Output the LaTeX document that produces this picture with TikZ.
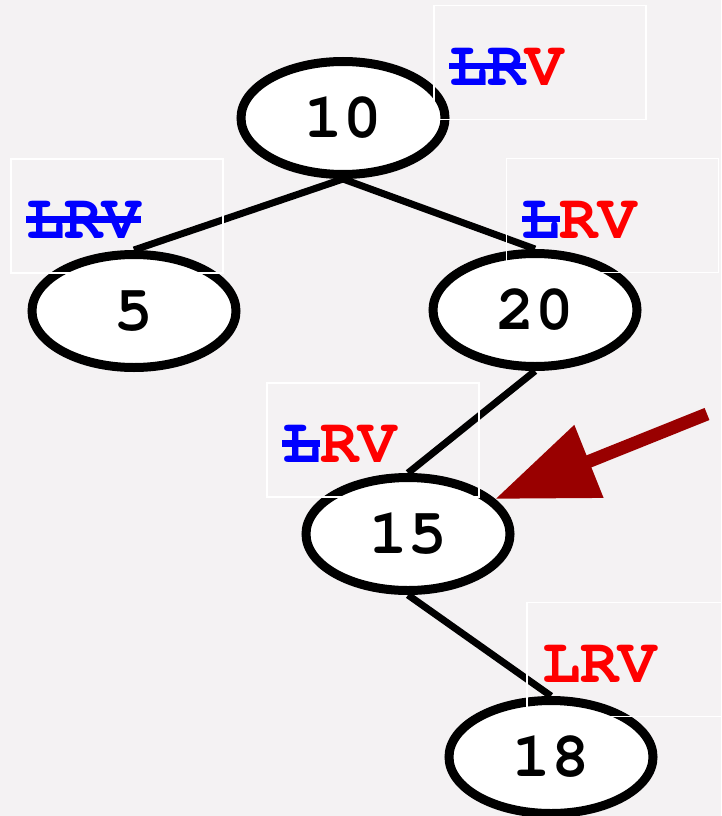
\documentclass[tikz,border=0pt]{standalone}
\usepackage{fontspec}
\setmainfont{texgyrecursor}[Extension=.otf,UprightFont=*-regular,BoldFont=*-bold]
\usepackage{xcolor}
\usetikzlibrary{positioning,shapes.geometric,arrows.meta}
\definecolor{bgcol}{HTML}{F4F2F3}
\definecolor{lblue}{HTML}{0000FF}
\definecolor{lred}{HTML}{FF0000}
\definecolor{ptrred}{HTML}{990000}
\newsavebox\strkbox
\newcommand\strk[1]{\sbox\strkbox{#1}\rlap{\usebox\strkbox}\rule[0.25em]{\wd\strkbox}{0.1em}}

\begin{document}
\begin{tikzpicture}[x=1pt,y=1pt,node distance=200pt,on grid,font=\fontsize{64}{70}\selectfont\bfseries]
  \tikzstyle{key}=[ellipse,draw,line width=9pt,fill=white,minimum width=204pt,minimum height=113pt,inner sep=0pt]
  \tikzstyle{branch}=[draw,line width=7pt]
  \tikzstyle{lrv}=[rectangle,draw=white,line width=1.2pt,minimum width=212pt,minimum height=114pt,text width=182pt,align=left,inner xsep=15pt,inner ysep=0pt,text height=79.5pt,text depth=34.5pt]
  \tikzstyle{ptr_arrow}=[-{Triangle[length=101pt,width=75pt]},line width=13pt,draw=ptrred]
  \path[use as bounding box,fill=bgcol] (0,0) rectangle (721,-816);
  \node[key] (n_10) at (343,-118) {10};
  \node[key] (n_5) [below left=193pt and 209pt of n_10] {5};
  \node[key] (n_20) [below right=192pt and 192pt of n_10] {20};
  \node[key] (n_15) [below left=224pt and 127pt of n_20] {15};
  \node[key] (n_18) [below right=223pt and 143pt of n_15] {18};
    \path
    (n_10.south) edge [branch] (n_5.north)
                 edge [branch] (n_20.north)
    (n_20.south) edge [branch] (n_15.north)
    (n_15.south) edge [branch] (n_18.north);
  \node[lrv] (lrv_10) [above right=55.5pt and 197pt of n_10] {\textcolor{lblue}{\strk{LR}}\textcolor{lred}{V}};
  \node[lrv] (lrv_5) [above left=95pt and 17pt of n_5] {\textcolor{lblue}{\strk{LRV}}};
  \node[lrv] (lrv_20) [above right=94.5pt and 77.5pt of n_20] {\textcolor{lblue}{\strk{L}}\textcolor{lred}{RV}};
  \node[lrv] (lrv_15) [above left=94pt and 35pt of n_15] {\textcolor{lblue}{\strk{L}}\textcolor{lred}{RV}};
  \node[lrv] (lrv_18) [above right=97.5pt and 82pt of n_18] {\textcolor{lred}{LRV}};
  \coordinate[above right=120pt and 299pt of n_15] (ptr);
  \draw[ptr_arrow] (ptr) -- (n_15);
\end{tikzpicture}
\end{document}
